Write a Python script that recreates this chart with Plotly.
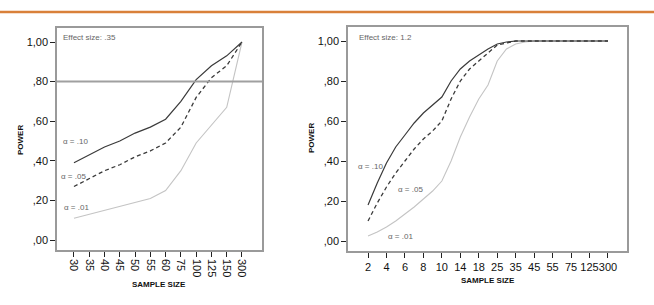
import plotly.graph_objects as go

# ---------------- data ----------------
left_sizes = ["30", "35", "40", "45", "50", "55", "60", "75", "100", "125", "150", "300"]
left_a10 = [0.39, 0.43, 0.47, 0.50, 0.54, 0.57, 0.61, 0.70, 0.81, 0.88, 0.93, 1.00]
left_a05 = [0.27, 0.31, 0.35, 0.38, 0.42, 0.45, 0.49, 0.57, 0.72, 0.82, 0.88, 1.00]
left_a01 = [0.11, 0.13, 0.15, 0.17, 0.19, 0.21, 0.25, 0.35, 0.49, 0.58, 0.67, 1.00]

right_sizes = ["2", "3", "4", "5", "6", "7", "8", "9", "10", "12", "14", "16", "18", "20",
               "25", "30", "35", "40", "45", "50", "55", "60", "75", "100", "125", "150", "300"]
right_labels = ["2", "4", "6", "8", "10", "14", "18", "25", "35", "45", "55", "75", "125", "300"]
right_a10 = [0.18, 0.29, 0.39, 0.47, 0.53, 0.59, 0.64, 0.68, 0.72, 0.80, 0.86, 0.90, 0.93, 0.96,
             0.985, 0.995, 1.0, 1.0, 1.0, 1.0, 1.0, 1.0, 1.0, 1.0, 1.0, 1.0, 1.0]
right_a05 = [0.10, 0.19, 0.27, 0.34, 0.40, 0.46, 0.51, 0.55, 0.60, 0.71, 0.80, 0.86, 0.90, 0.94,
             0.98, 0.99, 1.0, 1.0, 1.0, 1.0, 1.0, 1.0, 1.0, 1.0, 1.0, 1.0, 1.0]
right_a01 = [0.025, 0.045, 0.07, 0.10, 0.135, 0.17, 0.21, 0.25, 0.30, 0.40, 0.52, 0.62, 0.71, 0.78,
             0.90, 0.96, 0.985, 0.995, 1.0, 1.0, 1.0, 1.0, 1.0, 1.0, 1.0, 1.0, 1.0]

y_tickvals = [0, 0.2, 0.4, 0.6, 0.8, 1.0]
y_ticktext = [",00", ",20", ",40", ",60", ",80", "1,00"]

W, H = 654, 305
FONT = "Liberation Sans, Arial, sans-serif"
DARK = "#3a3a3a"
LIGHT = "#c4c4c4"
BOX = "#9a9a9a"

fig = go.Figure()

def add_series(x, y, xa, ya, color, dash, width):
    fig.add_trace(go.Scatter(x=x, y=y, xaxis=xa, yaxis=ya, mode="lines",
                             line=dict(color=color, dash=dash, width=width),
                             showlegend=False, hoverinfo="skip"))

add_series(left_sizes, left_a01, "x", "y", LIGHT, "solid", 1.1)
add_series(left_sizes, left_a05, "x", "y", DARK, "4px,3px", 1.3)
add_series(left_sizes, left_a10, "x", "y", DARK, "solid", 1.2)
add_series(right_sizes, right_a01, "x2", "y2", LIGHT, "solid", 1.1)
add_series(right_sizes, right_a05, "x2", "y2", DARK, "4px,3px", 1.3)
add_series(right_sizes, right_a10, "x2", "y2", DARK, "solid", 1.2)

def px_x(p):
    return p / W

def px_y(p):
    return 1 - p / H

axis_common = dict(showline=True, linecolor=BOX, linewidth=1.5, mirror=True,
                   showgrid=False, zeroline=False, ticks="outside", ticklen=5,
                   tickcolor="#222", tickwidth=1,
                   tickfont=dict(family=FONT, size=11, color="#111"))

fig.update_layout(
    width=W, height=H, margin=dict(l=0, r=0, t=0, b=0),
    paper_bgcolor="white", plot_bgcolor="white",
    xaxis=dict(domain=[px_x(57), px_x(262)], type="category",
               categoryorder="array", categoryarray=left_sizes,
               range=[-1.11, 12.31], tickangle=90, anchor="y", **axis_common),
    yaxis=dict(domain=[px_y(250), px_y(28)], range=[-0.0505, 1.0707],
               tickmode="array", tickvals=y_tickvals, ticktext=y_ticktext,
               anchor="x", **axis_common),
    xaxis2=dict(domain=[px_x(348), px_x(627)], type="category",
                categoryorder="array", categoryarray=right_sizes,
                range=[-2.17, 28.06], tickmode="array", tickvals=right_labels,
                ticktext=right_labels, tickangle=0, anchor="y2", **axis_common),
    yaxis2=dict(domain=[px_y(251), px_y(27)], range=[-0.05, 1.07],
                tickmode="array", tickvals=y_tickvals, ticktext=y_ticktext,
                anchor="x2", **axis_common),
)

# reference line at .80 on the left chart
fig.add_shape(type="line", xref="x domain", yref="y", x0=0, x1=1, y0=0.8, y1=0.8,
              line=dict(color="#a0a0a0", width=2))

# orange rule at top
fig.add_shape(type="line", xref="paper", yref="paper", x0=0, x1=1,
              y0=px_y(12), y1=px_y(12), line=dict(color="#d9803a", width=2.5))

def note(text, x, y, size=8, color="#666", bold=False, angle=0, xanchor="left"):
    fig.add_annotation(text=("<b>%s</b>" % text) if bold else text,
                       xref="paper", yref="paper", x=px_x(x), y=px_y(y),
                       xanchor=xanchor, yanchor="middle", showarrow=False,
                       textangle=angle, font=dict(family=FONT, size=size, color=color))

note("Effect size: .35", 61, 37, size=8)
note("α = .10", 61, 141, size=8)
note("α = .05", 59, 176, size=8)
note("α = .01", 62, 207, size=8)

note("Effect size: 1.2", 357, 37, size=8)
note("α = .10", 356, 166, size=8)
note("α = .05", 396, 189, size=8)
note("α = .01", 386, 236, size=8)

note("POWER", 20, 140, size=8, color="#111", bold=True, angle=-90, xanchor="center")
note("POWER", 312, 138, size=8, color="#111", bold=True, angle=-90, xanchor="center")
note("SAMPLE SIZE", 159, 284, size=8, color="#111", bold=True, xanchor="center")
note("SAMPLE SIZE", 488, 280, size=8, color="#111", bold=True, xanchor="center")

fig.write_html("out.html")
